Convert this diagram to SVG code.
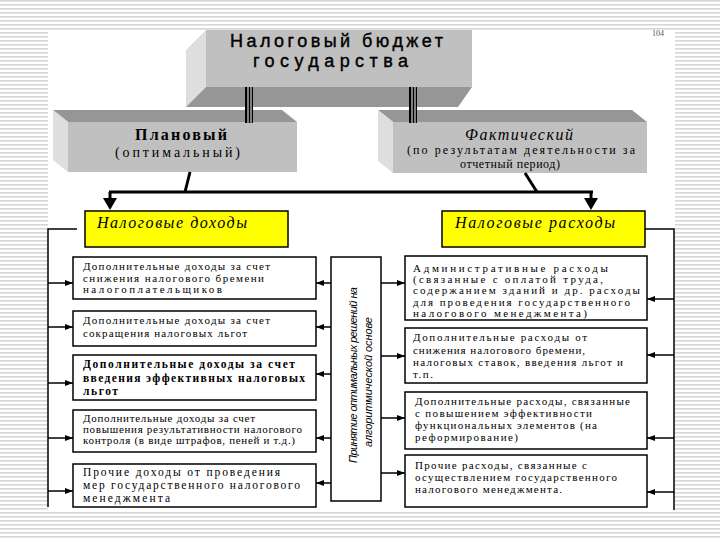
<svg xmlns="http://www.w3.org/2000/svg" width="720" height="540" viewBox="0 0 720 540">
<defs>
<pattern id="stripes" x="0" y="0" width="8" height="4" patternUnits="userSpaceOnUse">
<rect x="0" y="0" width="8" height="4" fill="#ffffff"/>
<rect x="0" y="0" width="8" height="1.6" fill="#d6d6d6"/>
</pattern>
<marker id="ah" markerUnits="userSpaceOnUse" markerWidth="8" markerHeight="6" refX="8" refY="3" orient="auto">
<path d="M0,0 L8,3 L0,6 z" fill="#000"/>
</marker>
</defs>
<style>
.box{fill:#fff;stroke:#000;stroke-width:1.5}
.yel{fill:#ffff00;stroke:#000;stroke-width:1.5}
.front{fill:#c0c0c0}
.side{fill:#dedede}
.dark{fill:#969696}
.t{font-family:"Liberation Serif","Times New Roman",serif;font-size:11px;fill:#000}
.tb{font-family:"Liberation Serif","Times New Roman",serif;font-size:11.5px;fill:#000;font-weight:bold}
.tl{font-family:"Liberation Serif","Times New Roman",serif;font-size:11.5px;fill:#000}
.hd{font-family:"Liberation Sans",Arial,sans-serif;font-size:18px;fill:#000;stroke:#000;stroke-width:0.4}
.it{font-family:"Liberation Serif","Times New Roman",serif;font-style:italic;font-size:16px;fill:#000}
.rot{font-family:"Liberation Sans",Arial,sans-serif;font-style:italic;font-size:11px;fill:#000}
.ln{stroke:#000;stroke-width:1.5;fill:none}
.thick{stroke:#000;stroke-width:3;fill:none}
.arr{stroke:#000;stroke-width:1.5;fill:none;marker-end:url(#ah)}
</style>
<rect x="0" y="0" width="720" height="540" fill="url(#stripes)"/>
<rect x="48" y="30" width="627" height="482" fill="#ffffff"/>
<text x="652" y="36" font-family="Liberation Serif, serif" font-size="8" fill="#555">104</text>

<g id="budget">
<polygon class="side" points="206,30 186,50 186,107 206,87"/>
<polygon class="dark" points="206,87 472,87 458,107 186,107"/>
<rect class="front" x="206" y="30" width="266" height="57"/>
<text class="hd" x="230" y="47" textLength="213" lengthAdjust="spacing">Налоговый бюджет</text>
<text class="hd" x="253" y="67" textLength="155" lengthAdjust="spacing">государства</text>
</g>

<g id="planned">
<polygon class="dark" points="68,122 297,122 282,110 53,110"/>
<polygon class="side" points="68,122 53,110 53,160 68,172"/>
<rect class="front" x="68" y="122" width="229" height="50"/>
<text class="tb" x="135" y="140" style="font-size:16px" textLength="92" lengthAdjust="spacing">Плановый</text>
<text class="tl" x="115" y="157" style="font-size:14px" textLength="125" lengthAdjust="spacing">(оптимальный)</text>
</g>

<g id="actual">
<polygon class="dark" points="393,122 647,122 632,110 378,110"/>
<polygon class="side" points="393,122 378,110 378,161 393,173"/>
<rect class="front" x="393" y="122" width="254" height="51"/>
<text class="it" x="465" y="140" textLength="108" lengthAdjust="spacing">Фактический</text>
<text class="t" x="407" y="154" style="font-size:12px" textLength="228" lengthAdjust="spacing">(по результатам деятельности за</text>
<text class="t" x="460" y="168" style="font-size:12px" textLength="100" lengthAdjust="spacing">отчетный период)</text>
</g>

<g id="income">
<rect class="yel" x="85" y="211" width="203" height="36"/>
<text class="it" x="97" y="228" textLength="150" lengthAdjust="spacing">Налоговые доходы</text>
</g>

<g id="expense">
<rect class="yel" x="442" y="211" width="203" height="36"/>
<text class="it" x="455" y="228" textLength="160" lengthAdjust="spacing">Налоговые расходы</text>
</g>

<g id="inc1">
<rect class="box" x="73" y="257" width="243" height="42"/>
<text class="t" x="83" y="270" textLength="187" lengthAdjust="spacing">Дополнительные доходы за счет</text>
<text class="t" x="83" y="282" textLength="181" lengthAdjust="spacing">снижения налогового бремени</text>
<text class="t" x="83" y="293" textLength="139" lengthAdjust="spacing">налогоплательщиков</text>
</g>
<g id="inc2">
<rect class="box" x="73" y="311" width="243" height="35"/>
<text class="t" x="83" y="324" textLength="187" lengthAdjust="spacing">Дополнительные доходы за счет</text>
<text class="t" x="83" y="337" textLength="164" lengthAdjust="spacing">сокращения налоговых льгот</text>
</g>
<g id="inc3">
<rect class="box" x="73" y="355" width="243" height="45"/>
<text class="tb" x="83" y="368" textLength="212" lengthAdjust="spacing">Дополнительные доходы за счет</text>
<text class="tb" x="83" y="382" textLength="222" lengthAdjust="spacing">введения эффективных налоговых</text>
<text class="tb" x="83" y="395" textLength="35" lengthAdjust="spacing">льгот</text>
</g>
<g id="inc4">
<rect class="box" x="73" y="410" width="243" height="42"/>
<text class="t" x="83" y="422" textLength="172" lengthAdjust="spacing">Дополнительные доходы за счет</text>
<text class="t" x="83" y="433" textLength="219" lengthAdjust="spacing">повышения результативности налогового</text>
<text class="t" x="83" y="444" textLength="212" lengthAdjust="spacing">контроля (в виде штрафов, пеней и т.д.)</text>
</g>
<g id="inc5">
<rect class="box" x="73" y="464" width="243" height="43"/>
<text class="tl" x="83" y="476" textLength="197" lengthAdjust="spacing">Прочие доходы от проведения</text>
<text class="tl" x="83" y="489" textLength="217" lengthAdjust="spacing">мер государственного налогового</text>
<text class="tl" x="83" y="502" textLength="87" lengthAdjust="spacing">менеджмента</text>
</g>

<g id="decision">
<rect class="box" x="331" y="257" width="50" height="244"/>
<text class="rot" transform="translate(357,463) rotate(-90)" textLength="176" lengthAdjust="spacing">Принятие оптимальных решений на</text>
<text class="rot" transform="translate(372,447) rotate(-90)" textLength="130" lengthAdjust="spacing">алгоритмической основе</text>
</g>

<g id="exp1">
<rect class="box" x="405" y="256" width="242" height="64"/>
<text class="t" x="413" y="272" textLength="195" lengthAdjust="spacing">Административные расходы</text>
<text class="t" x="413" y="283" textLength="190" lengthAdjust="spacing">(связанные с оплатой труда,</text>
<text class="t" x="413" y="294" textLength="227" lengthAdjust="spacing">содержанием зданий и др. расходы</text>
<text class="t" x="413" y="306" textLength="217" lengthAdjust="spacing">для проведения государственного</text>
<text class="t" x="413" y="317" textLength="174" lengthAdjust="spacing">налогового менеджмента)</text>
</g>
<g id="exp2">
<rect class="box" x="405" y="328" width="242" height="55"/>
<text class="t" x="413" y="341" textLength="174" lengthAdjust="spacing">Дополнительные расходы от</text>
<text class="t" x="413" y="354" textLength="172" lengthAdjust="spacing">снижения налогового бремени,</text>
<text class="t" x="413" y="366" textLength="210" lengthAdjust="spacing">налоговых ставок, введения льгот и</text>
<text class="t" x="413" y="378" textLength="20" lengthAdjust="spacing">т.п.</text>
</g>
<g id="exp3">
<rect class="box" x="405" y="392" width="242" height="57"/>
<text class="t" x="415" y="405" textLength="215" lengthAdjust="spacing">Дополнительные расходы, связанные</text>
<text class="t" x="415" y="417" textLength="177" lengthAdjust="spacing">с повышением эффективности</text>
<text class="t" x="415" y="429" textLength="182" lengthAdjust="spacing">функциональных элементов (на</text>
<text class="t" x="415" y="441" textLength="103" lengthAdjust="spacing">реформирование)</text>
</g>
<g id="exp4">
<rect class="box" x="405" y="455" width="242" height="52"/>
<text class="t" x="415" y="469" textLength="172" lengthAdjust="spacing">Прочие расходы, связанные с</text>
<text class="t" x="415" y="481" textLength="202" lengthAdjust="spacing">осуществлением государственного</text>
<text class="t" x="415" y="493" textLength="147" lengthAdjust="spacing">налогового менеджмента.</text>
</g>

<g id="connectors">
<rect x="245" y="87" width="8" height="36" fill="#000"/>
<rect x="247.5" y="87" width="1" height="36" fill="#fff"/>
<rect x="250.5" y="87" width="1" height="36" fill="#fff"/>
<rect x="409" y="87" width="8" height="36" fill="#000"/>
<rect x="411.5" y="87" width="1" height="36" fill="#fff"/>
<rect x="414.5" y="87" width="1" height="36" fill="#fff"/>
<path class="thick" d="M190,172 L185,192"/>
<path class="thick" d="M525,173 L537,192"/>
<path class="thick" d="M109,192 H593"/>
<path class="thick" d="M110,192 V199"/>
<path class="thick" d="M591,192 V199"/>
<polygon points="103,198 117,198 110,210" fill="#000"/>
<polygon points="584,198 598,198 591,210" fill="#000"/>
<path class="ln" d="M77,229 H48 V507"/>
<line class="arr" x1="48" y1="283" x2="73" y2="283"/>
<line class="arr" x1="48" y1="327" x2="73" y2="327"/>
<line class="arr" x1="48" y1="383" x2="73" y2="383"/>
<line class="arr" x1="48" y1="438" x2="73" y2="438"/>
<line class="arr" x1="48" y1="491" x2="73" y2="491"/>
<line class="arr" x1="331" y1="283" x2="316" y2="283"/>
<line class="arr" x1="331" y1="327" x2="316" y2="327"/>
<line class="arr" x1="331" y1="374" x2="316" y2="374"/>
<line class="arr" x1="331" y1="438" x2="316" y2="438"/>
<line class="arr" x1="331" y1="483" x2="316" y2="483"/>
<line class="arr" x1="381" y1="283" x2="405" y2="283"/>
<line class="arr" x1="381" y1="356" x2="405" y2="356"/>
<line class="arr" x1="381" y1="418" x2="405" y2="418"/>
<line class="arr" x1="381" y1="473" x2="405" y2="473"/>
<path class="ln" d="M645,229 H674 V510"/>
<line class="arr" x1="674" y1="299" x2="647" y2="299"/>
<line class="arr" x1="674" y1="355" x2="647" y2="355"/>
<line class="arr" x1="674" y1="438" x2="647" y2="438"/>
<line class="arr" x1="674" y1="492" x2="647" y2="492"/>
</g>
</svg>
